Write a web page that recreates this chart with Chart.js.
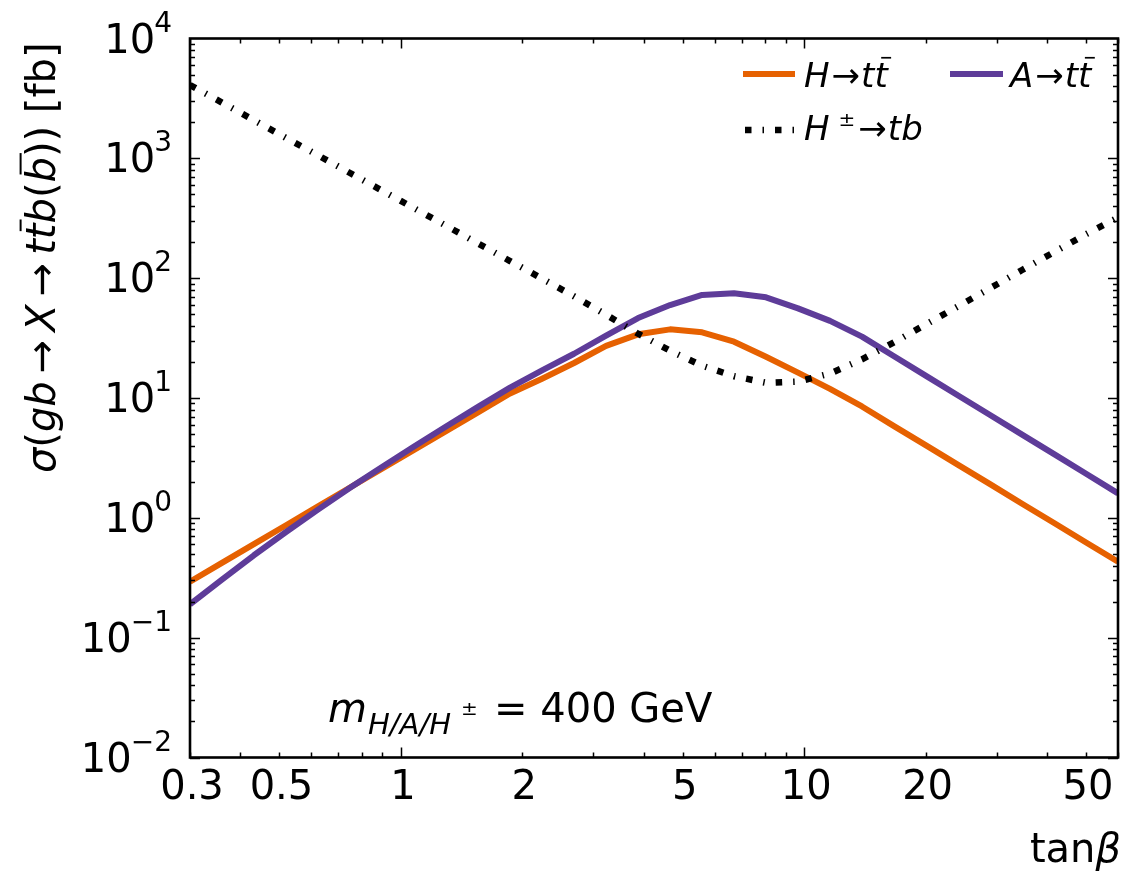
<!DOCTYPE html>
<html><head><meta charset="utf-8">
<script src="https://cdn.jsdelivr.net/npm/chart.js@4"></script>
<style>html,body{margin:0;padding:0;background:#fff}canvas{display:block}</style>
</head><body>
<canvas id="c" width="1135" height="876"></canvas>
<script>
// ---- data ----
const tanBeta = [0.300,0.360,0.432,0.519,0.623,0.748,0.898,1.078,1.294,1.553,1.865,2.239,2.688,3.227,3.874,4.651,5.584,6.699,8.042,9.654,11.59,13.91,16.70,20.05,24.08,28.90,34.70,41.66,50.01,60.0];
const sigmaH   = [0.293,0.421,0.604,0.867,1.245,1.79,2.57,3.68,5.28,7.59,10.9,14.5,19.6,27.2,34.0,37.4,35.3,29.5,22.1,16.3,11.9,8.5,5.83,4.02,2.77,1.91,1.31,0.905,0.623,0.43];
const sigmaA   = [0.19,0.305,0.487,0.762,1.17,1.78,2.66,3.94,5.79,8.43,12.2,17.0,23.4,33.1,46.5,59.7,72.4,74.7,69.2,56.0,44.0,32.5,22.3,15.3,10.5,7.21,4.95,3.40,2.33,1.60];
const sigmaHpm = [4090,2920,2080,1480,1060,754,538,384,274,195,139,99.1,70.6,49.5,34.4,24.8,18.6,15.2,13.4,13.7,16.0,21.0,29.1,41.2,58.2,82.4,117,165,233,320];
const xTickValues = [0.3,0.5,1,2,5,10,20,50];
const xTickLabels = ['0.3','0.5','1','2','5','10','20','50'];
const yTickExponents = [-2,-1,0,1,2,3,4];
const xRange = [0.3, 60];
const yRange = [0.01, 10000];

const ORANGE = '#e66101', PURPLE = '#5e3c99';
const FONT = '"DejaVu Sans", sans-serif';
const fnt = (sz, it) => (it ? 'italic ' : '') + sz + 'px ' + FONT;

function pts(ys){ return tanBeta.map((x,i)=>({x:x,y:ys[i]})); }

function drawSegs(ctx, segs, x0, y0){
  let x = x0;
  for (const s of segs){
    if (s.gap !== undefined){ x += s.gap; continue; }
    ctx.font = fnt(s.sz, s.it);
    const w = ctx.measureText(s.t).width;
    const y = y0 + (s.dy || 0);
    ctx.fillText(s.t, x, y);
    if (s.bar){
      ctx.save();
      ctx.lineWidth = Math.max(1.6, s.sz*0.05);
      ctx.beginPath();
      const by = y - s.sz*0.86;
      ctx.moveTo(x + s.sz*0.2, by);
      ctx.lineTo(x + w + s.sz*0.1, by);
      ctx.stroke();
      ctx.restore();
    }
    x += w;
  }
  return x - x0;
}

const deco = {
  id: 'deco',
  afterDraw(chart){
    const ctx = chart.ctx, a = chart.chartArea;
    const xs = chart.scales.x, ys = chart.scales.y;
    ctx.save();
    ctx.fillStyle = '#000'; ctx.strokeStyle = '#000';
    // ticks (inward, all four sides)
    ctx.lineWidth = 1.5;
    ctx.beginPath();
    for (const d of [0.1,1,10]) for (let m=1;m<=9;m++){
      const v = m*d; if (v < xRange[0]-1e-9 || v > xRange[1]+1e-9) continue;
      const px = Math.round(xs.getPixelForValue(v)) + 0.5;
      const L = m===1 ? 10 : 5;
      ctx.moveTo(px, a.bottom); ctx.lineTo(px, a.bottom - L);
      ctx.moveTo(px, a.top); ctx.lineTo(px, a.top + L);
    }
    for (let e=-2;e<4;e++) for (let m=1;m<=9;m++){
      const v = m*Math.pow(10,e);
      const py = Math.round(ys.getPixelForValue(v)) + 0.5;
      const L = m===1 ? 10 : 5;
      ctx.moveTo(a.left, py); ctx.lineTo(a.left + L, py);
      ctx.moveTo(a.right, py); ctx.lineTo(a.right - L, py);
    }
    ctx.stroke();
    // frame
    ctx.lineWidth = 2.6;
    ctx.strokeRect(a.left, a.top, a.right - a.left, a.bottom - a.top);

    // x tick labels
    ctx.textBaseline = 'alphabetic';
    ctx.font = fnt(40, false);
    ctx.textAlign = 'center';
    xTickValues.forEach((v,i)=>{
      ctx.fillText(xTickLabels[i], xs.getPixelForValue(v) + 2, a.bottom + 41);
    });
    // y tick labels 10^e
    ctx.textAlign = 'left';
    yTickExponents.forEach(e=>{
      const py = ys.getPixelForValue(Math.pow(10,e));
      const sup = e < 0 ? '\u2212' + (-e) : String(e);
      ctx.font = fnt(28, false);
      const sw = ctx.measureText(sup).width;
      const right = 172;
      ctx.fillText(sup, right - sw, py - 7);
      ctx.font = fnt(40, false);
      const bw = ctx.measureText('10').width;
      ctx.fillText('10', right - sw - bw + 1, py + 14);
    });

    // y axis title (rotated)
    ctx.save();
    ctx.translate(55, 473);
    ctx.rotate(-Math.PI/2);
    const S = 40, G = 8;
    drawSegs(ctx, [
      {t:'\u03c3', sz:S, it:true}, {t:'(', sz:S}, {t:'gb', sz:S, it:true},
      {gap:G}, {t:'\u2192', sz:S}, {gap:G}, {t:'X', sz:S, it:true},
      {gap:G}, {t:'\u2192', sz:S}, {gap:G}, {t:'t', sz:S, it:true}, {t:'t', sz:S, it:true, bar:true},
      {t:'b', sz:S, it:true}, {t:'(', sz:S}, {t:'b', sz:S, it:true, bar:true}, {t:'))', sz:S},
      {t:' [fb]', sz:S}
    ], 0, 0);
    ctx.restore();

    // x axis title
    ctx.font = fnt(40, true);
    const bwid = ctx.measureText('\u03b2').width;
    ctx.font = fnt(40, false);
    const twid = ctx.measureText('tan').width;
    drawSegs(ctx, [{t:'tan', sz:40}, {t:'\u03b2', sz:40, it:true}], 1121 - twid - bwid, 862);

    // legend
    const ds = chart.data.datasets;
    function sample(d, x1, x2, y){
      ctx.save();
      ctx.strokeStyle = d.borderColor; ctx.lineWidth = d.borderWidth;
      ctx.lineCap = 'butt';
      ctx.setLineDash(d.borderDash || []);
      ctx.beginPath(); ctx.moveTo(x1, y); ctx.lineTo(x2, y); ctx.stroke();
      ctx.restore();
    }
    const LS = 34;
    sample(ds[0], 743, 795, 74);
    drawSegs(ctx, [{t:'H', sz:LS, it:true}, {gap:2}, {t:'\u2192', sz:LS}, {gap:1}, {t:'t', sz:LS, it:true}, {t:'t', sz:LS, it:true, bar:true}], 804, 87);
    sample(ds[1], 950, 1003, 74);
    drawSegs(ctx, [{t:'A', sz:LS, it:true}, {gap:2}, {t:'\u2192', sz:LS}, {gap:1}, {t:'t', sz:LS, it:true}, {t:'t', sz:LS, it:true, bar:true}], 1010, 87);
    sample(ds[2], 745, 795, 130);
    drawSegs(ctx, [{t:'H', sz:LS, it:true}, {gap:9}, {t:'\u00b1', sz:20, dy:-14}, {gap:3}, {t:'\u2192', sz:LS}, {gap:1}, {t:'tb', sz:LS, it:true}], 804, 140);

    // annotation
    drawSegs(ctx, [{t:'m', sz:40, it:true}], 328, 722);
    drawSegs(ctx, [{t:'H/A/H', sz:29, it:true}], 368, 734);
    drawSegs(ctx, [{t:'\u00b1', sz:20}], 461, 715);
    drawSegs(ctx, [{t:'= 400 GeV', sz:40}], 494, 722);

    ctx.restore();
  }
};

new Chart(document.getElementById('c'), {
  type: 'line',
  data: {
    datasets: [
      {label:'H\u2192tt\u0304', data: pts(sigmaH), borderColor: ORANGE, borderWidth: 6, order: 3},
      {label:'A\u2192tt\u0304', data: pts(sigmaA), borderColor: PURPLE, borderWidth: 6, order: 2},
      {label:'H\u00b1\u2192tb', data: pts(sigmaHpm), borderColor: '#000', borderWidth: 6.5, borderDash: [6.5,11,1.5,11], borderCapStyle:'butt', order: 1}
    ]
  },
  options: {
    responsive: false, animation: false, devicePixelRatio: 1,
    elements: { point: { radius: 0, hoverRadius: 0 }, line: { tension: 0, fill: false, borderJoinStyle: 'round' } },
    layout: { padding: { left: 190, right: 17, top: 38.5, bottom: 118.5 } },
    scales: {
      x: { type: 'logarithmic', min: xRange[0], max: xRange[1], display: false },
      y: { type: 'logarithmic', min: yRange[0], max: yRange[1], display: false }
    },
    plugins: { legend: { display: false }, tooltip: { enabled: false } },
    events: []
  },
  plugins: [deco]
});
</script>
</body></html>
